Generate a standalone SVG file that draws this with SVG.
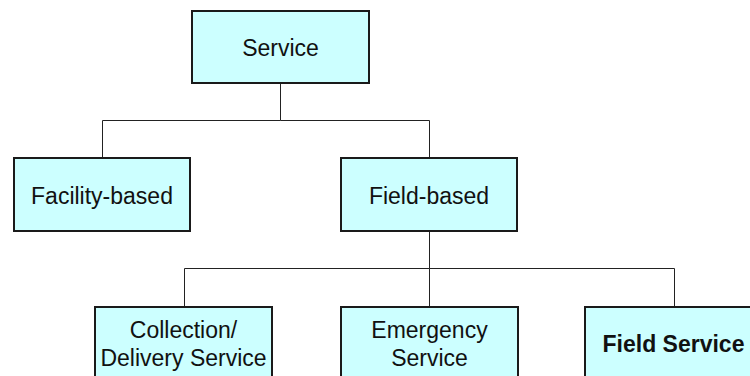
<svg xmlns="http://www.w3.org/2000/svg" width="750" height="376" viewBox="0 0 750 376">
<style>
.box{fill:#ccffff;stroke:#1a1a1a;stroke-width:2}
.t{font-family:"Liberation Sans",Arial,sans-serif;font-size:23px;fill:#111;text-anchor:middle}
.b{font-weight:bold}
.c{fill:none;stroke:#222;stroke-width:1}
</style>
<rect width="750" height="376" fill="#fff"/>
<g id="connectors">
<path class="c" d="M280.5 84 V120.5 H102.5 V157 M280.5 120.5 H429.5 V157"/>
<path class="c" d="M429.5 232 V268.5 H184.5 V306 M429.5 268.5 V306 M429.5 268.5 H674.5 V306"/>
</g>
<g id="service">
<rect class="box" x="192" y="11" width="177" height="72"/>
<text class="t" x="280.5" y="55.5">Service</text>
</g>
<g id="facility-based">
<rect class="box" x="14" y="158" width="176" height="73"/>
<text class="t" x="102" y="203.5">Facility-based</text>
</g>
<g id="field-based">
<rect class="box" x="341" y="158" width="176" height="73"/>
<text class="t" x="429" y="203.5">Field-based</text>
</g>
<g id="collection-delivery">
<rect class="box" x="95" y="307" width="177" height="73"/>
<text class="t" x="183.5" y="338">Collection/</text>
<text class="t" x="183.5" y="366">Delivery Service</text>
</g>
<g id="emergency">
<rect class="box" x="341" y="307" width="177" height="73"/>
<text class="t" x="429.5" y="338">Emergency</text>
<text class="t" x="429.5" y="366">Service</text>
</g>
<g id="field-service">
<rect class="box" x="585" y="307" width="177" height="73"/>
<text class="t b" x="673.5" y="352">Field Service</text>
</g>
</svg>
